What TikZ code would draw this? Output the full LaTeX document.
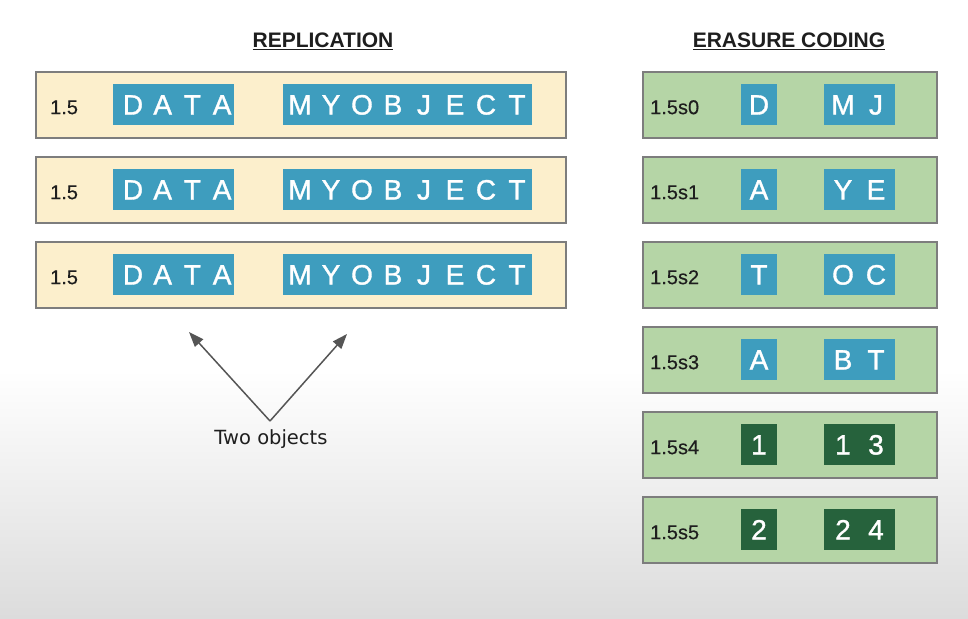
\documentclass[tikz,border=0pt]{standalone}
\usepackage{fontspec}
\setmainfont{Liberation Sans}
\newfontfamily\dejavu{DejaVu Sans}
\newfontfamily\chipfont[FakeBold=1.2]{Liberation Sans}
\newfontfamily\lblfont[FakeBold=0.4]{Liberation Sans}
\usetikzlibrary{arrows.meta}
\definecolor{beige}{RGB}{252,239,204}
\definecolor{frame}{RGB}{125,125,125}
\definecolor{sage}{RGB}{181,213,166}
\definecolor{tealblue}{RGB}{62,157,190}
\definecolor{darkgr}{RGB}{38,98,60}
\definecolor{bggray}{RGB}{220,220,220}
\definecolor{arrowgray}{RGB}{85,85,85}
\definecolor{ink}{RGB}{30,30,30}
\tikzset{
 repbox/.style={draw=frame, line width=2pt, fill=beige, minimum width=530pt, minimum height=66pt, anchor=north west, inner sep=0},
 ecbox/.style={draw=frame, line width=2pt, fill=sage, minimum width=294pt, minimum height=66pt, anchor=north west, inner sep=0},
 chip/.style={fill=#1, minimum height=41pt, inner sep=0, anchor=west},
 lett/.style={text=white, font=\chipfont\fontsize{28}{28}\selectfont, inner sep=0, text height=20pt, text depth=0pt},
 lbl/.style={font=\lblfont\fontsize{20}{20}\selectfont, text=ink, inner sep=0, text height=14.3pt, text depth=0pt, anchor=west},
 head/.style={font=\bfseries\fontsize{21}{21}\selectfont, text=ink, inner sep=0, anchor=base},
 pointer/.style={draw=arrowgray, line width=1.5pt, -{Triangle[length=15pt,width=11pt]}},
}
\begin{document}
\begin{tikzpicture}[x=1pt,y=-1pt]
\useasboundingbox (0,0) rectangle (968,618);
\fill[white] (0,0) rectangle (968,618);
\shade[top color=white, bottom color=bggray] (0,370) rectangle (968,618);

\node[head] (hrep) at (323,48) {\underline{REPLICATION}};
\node[head] (hec) at (789,48) {\underline{ERASURE CODING}};

\foreach \r/\y in {1/70,2/155,3/240} {
  \node[repbox] (rep\r) at (35,\y+1) {};
  \node[lbl] (repl\r) at (50,\y+37) {1.5};
  \node[chip=tealblue, minimum width=121pt] (rd\r) at (113,\y+34.5) {};
  \node[chip=tealblue, minimum width=249pt] (rm\r) at (283,\y+34.5) {};
  \foreach \c [count=\i] in {D,A,T,A}
    \node[lett] (rd\r-\i) at (133+29.7*\i-29.7,\y+34.5) {\c};
  \foreach \c [count=\i] in {M,Y,O,B,J,E,C,T}
    \node[lett] (rm\r-\i) at (300+31*\i-31,\y+34.5) {\c};
}

\foreach \r/\y/\a/\b/\bb/\col in {0/70/D/M/J/tealblue,1/155/A/Y/E/tealblue,2/240/T/O/C/tealblue,3/325/A/B/T/tealblue,4/410/1/1/3/darkgr,5/495/2/2/4/darkgr} {
  \node[ecbox] (ec\r) at (642,\y+1) {};
  \node[lbl] (ecl\r) at (650,\y+37) {1.5s\r};
  \node[chip=\col, minimum width=36pt] (eca\r) at (741,\y+34.5) {};
  \node[chip=\col, minimum width=71pt] (ecb\r) at (824,\y+34.5) {};
  \node[lett] (eca\r-1) at (759,\y+34.5) {\a};
  \node[lett] (ecb\r-1) at (843,\y+34.5) {\b};
  \node[lett] (ecb\r-2) at (876,\y+34.5) {\bb};
}

\node[font=\dejavu\fontsize{19.5}{19.5}\selectfont, text=ink, inner sep=0, text height=14pt, text depth=0pt] (two) at (271,437) {Two objects};
\coordinate (apex) at (270,421);
\coordinate (tipL) at (189,332);
\coordinate (tipR) at (347,334);
\draw[pointer] (apex) -- (tipL);
\draw[pointer] (apex) -- (tipR);
\end{tikzpicture}
\end{document}
